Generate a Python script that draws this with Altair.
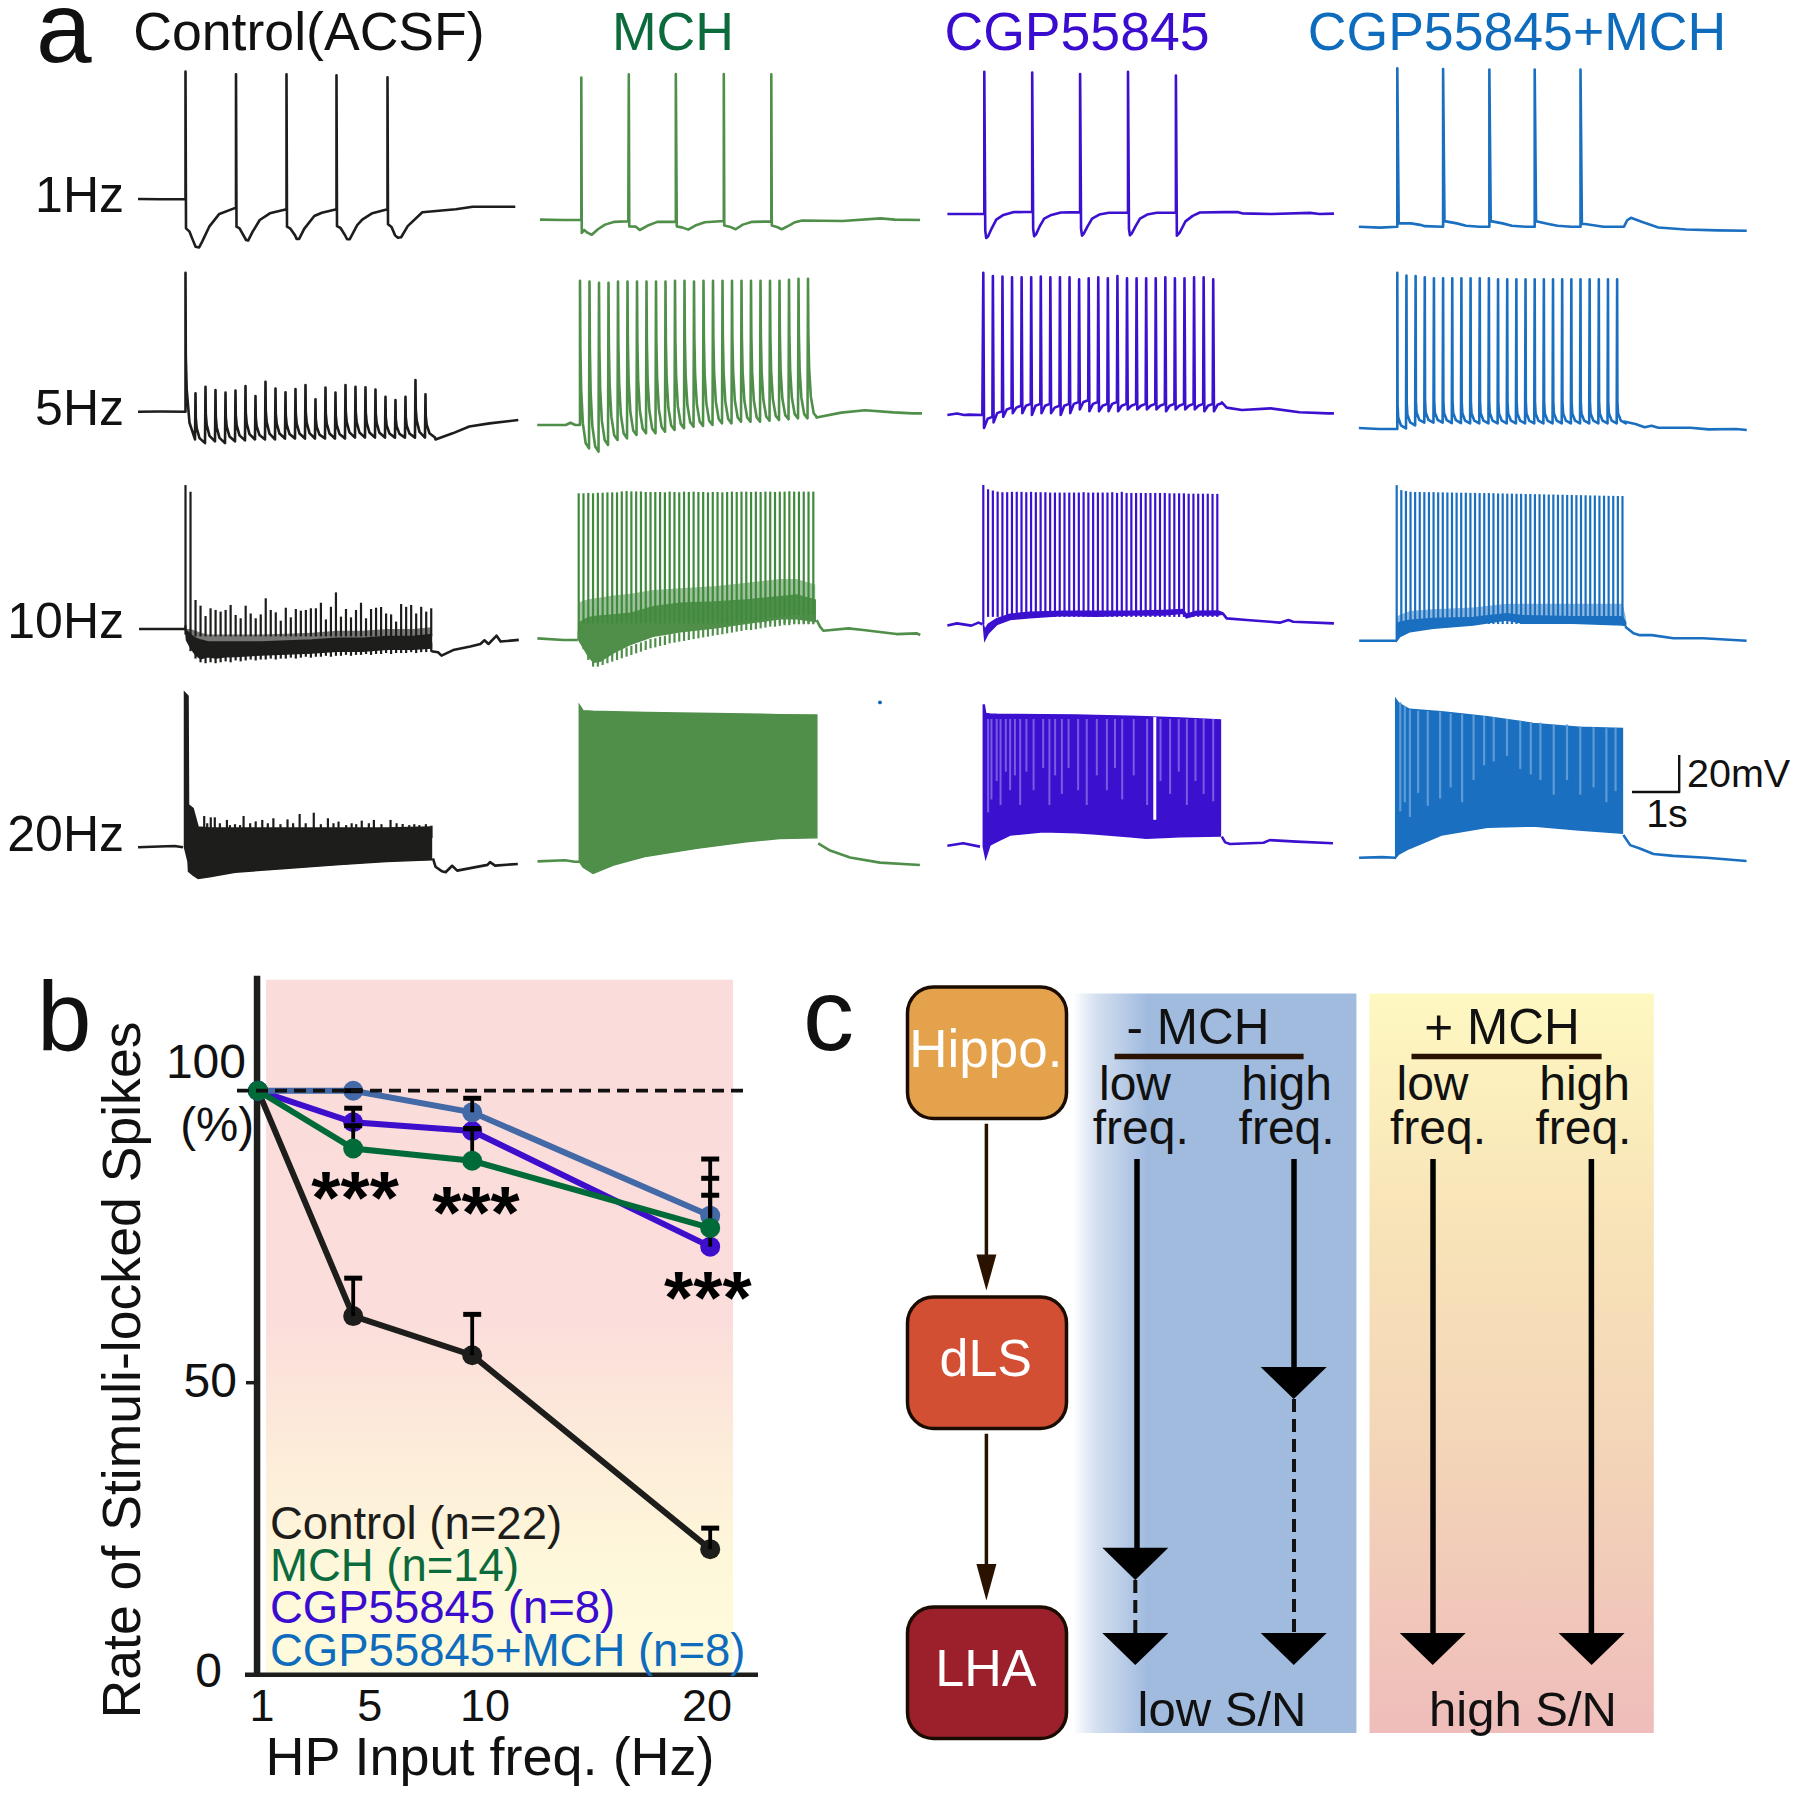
import altair as alt
import pandas as pd

FONT = "Liberation Sans"
INK = "#1d1d1b"
C_CTRL, C_MCH, C_CGP, C_BOTH = INK, "#4f8f4a", "#3c10cf", "#1a6fc0"
T_MCH, T_CGP, T_BOTH = "#0b6b3c", "#3a0ccf", "#0f6cbd"
PAGE = 8

# ---- layout of panel a (picture pixels)
COL_X = [8, 530, 930, 1340]
COL_W = [522, 400, 410, 452]
ROW_Y = [8, 260, 470, 685]
ROW_H = [252, 210, 215, 210]
PX_PER_S = [50.5, 47.5, 47.9, 45.8]
PX_PER_MV = 1.85
ONSET_X = [[185.5, 581.3, 984.3, 1397.3], [185.5, 580, 983.3, 1397.3],
           [185.5, 578.7, 983.3, 1396.7], [184.5, 579.3, 983.3, 1395.7]]
REST_Y = [[199.3, 220, 214, 226.7], [411.7, 425, 415, 429],
          [629, 640, 624.3, 640.7], [847.3, 861.7, 845.7, 857.7]]
COLORS = [C_CTRL, C_MCH, C_CGP, C_BOTH]

# ---- 1 Hz traces: time (s), membrane potential (mV re. rest)
R1_CTRL_T = [-.94, -.5, -.02, 0, 0, .01, .08, .13, .2, .27, .33, .47, .67, 1, 1, 1.01, 1.07, 1.2, 1.24, 1.33, 1.47, 1.67, 2,
             2, 2.01, 2.07, 2.17, 2.2, 2.25, 2.35, 2.55, 2.7, 2.99, 2.99, 3, 3.07, 3.15, 3.2, 3.25, 3.4, 3.5, 3.7, 4, 4, 4.01,
             4.08, 4.15, 4.2, 4.27, 4.4, 4.69, 5.35, 5.69, 6.16, 6.53]
R1_CTRL_V = [.2, 0, 0, 0, 69, -15.7, -17.5, -21, -25.6, -26, -22.9, -14.8, -7.9, -4.5, 67.6, -14.8, -15.7, -22, -22.3, -17.5, -11.2, -7.6, -5.4,
             67.6, -14.8, -15.7, -19.5, -21.4, -21.4, -16, -9, -7.3, -5.4, 67, -14.5, -15.5, -19, -21.6, -21.6, -14, -11, -7.5, -5.4, 66, -13.5,
             -15, -19.5, -20.7, -20.5, -14.5, -7, -5.4, -4, -4, -4]
R1_MCH_T = [-.87, -.38, 0, 0, .01, .06, .11, .22, .35, .5, .7, .99, 1, 1.01, 1.15, 1.23, 1.4, 1.6, 1.99, 1.99, 2.01, 2.12, 2.25, 2.4, 2.6, 3,
            3, 3.01, 3.12, 3.25, 3.4, 3.6, 4, 4, 4.01, 4.12, 4.22, 4.37, 4.5, 4.65, 5.5, 6.3, 6.6, 7.13]
R1_MCH_V = [.2, 0, 0, 77, -7, -5.4, -6.5, -8, -5, -2.5, -1, -.7, 78.7, -3.5, -3.6, -5.4, -3, -1, -.9, 78.9, -3.5, -4, -5.2, -3, -1.2, -.5,
            78.9, -3, -3.6, -5, -2.5, -1, -.8, 78.7, -3, -3.8, -5, -3, -1.2, -.3, -.5, .9, .2, 0]
R1_CGP_T = [-.77, -.1, 0, 0, .02, .04, .08, .15, .25, .4, .6, 1, 1, 1.02, 1.04, 1.08, 1.15, 1.25, 1.4, 1.6, 2, 2, 2.02, 2.04, 2.08, 2.15, 2.25,
            2.4, 2.6, 3, 3, 3.02, 3.04, 3.08, 3.15, 3.25, 3.4, 3.6, 4, 4, 4.02, 4.08, 4.2, 4.35, 4.5, 5, 5.3, 5.4, 5.6, 6, 6.8, 7, 7.3]
R1_CGP_V = [0, 0, 0, 76.9, -9, -13, -12, -8, -3, -.5, 1, 1.2, 76.4, -8, -12, -11, -7, -2.5, -.5, .8, 1, 75.7, -8, -11.7, -10.5, -7, -2.5,
            -.3, .7, .8, 76.9, -8, -11.5, -10.5, -7, -2.5, -.3, .7, .8, 74.8, -11.7, -10, -4, -1, .8, 1, 1, .3, .2, 0, .6, 0, .2]
R1_BOTH_T = [-.84, -.38, 0, 0, .03, .3, .5, .6, 1, 1, 1.03, 1.3, 1.5, 1.8, 2.01, 2.01, 2.04, 2.3, 2.5, 2.8, 3, 3, 3.03, 3.3, 3.5, 3.8, 4, 4,
             4.03, 4.1, 4.5, 4.95, 5.02, 5.1, 5.35, 5.7, 6.3, 7, 7.63]
R1_BOTH_V = [0, -.5, 0, 85.6, 1.8, 1.8, 1, .3, 0, 85.2, 3, 1.8, .5, 0, 0, 85, 3, 1.8, .5, 0, 0, 85, 3, 1.5, .5, 0, 0, 85,
             1.5, 1.5, 0, 0, 3.5, 4.8, 2.5, -.4, -1.5, -2, -2.2]

# ---- 5 Hz traces: spike peaks and the valley that follows each spike
R2_CTRL_PEAK = [75.1, 10, 13.5, 11.7, 10.3, 11.4, 13.9, 8.5, 16.2, 12.5, 10.5, 12.3, 14.4, 6.7, 13, 10.3, 14.4, 13.5, 13.2, 12, 8.1, 6.3, 8.1, 17.1, 9.4]
R2_CTRL_LOW = [-15, -17, -16, -17, -16, -15.5, -15, -15, -15, -14.5, -14.5, -14.5, -14.5, -14.5, -14.5, -14.5, -14, -14, -14, -14, -14, -14, -14, -14, -14]
R2_CTRL_PRE_T, R2_CTRL_PRE_V = [-.94, -.5, 0], [0, .1, 0]
R2_CTRL_POST_T, R2_CTRL_POST_V = [4.95, 5.29, 5.62, 6.02, 6.59], [-15, -11.7, -8, -6.3, -4.5]

R2_MCH_PEAK = [78, 77.5, 76.9, 76.9, 77.5, 77.5, 77.5, 77.5, 77.5, 77.5, 78, 78, 77.5, 78, 78, 78, 78, 78, 78, 78, 78, 78, 78.5, 79, 79]
R2_MCH_LOW = [-12.6, -14.4, -10.8, -8.1, -7.2, -5.4, -4.5, -4.5, -3.6, -2.7, -1.8, -.9, -.5, 0, .9, .9, 1.8, 1.8, 1.8, 2.3, 2.7, 3.1, 3.6, 3.6, 4.1]
R2_MCH_PRE_T, R2_MCH_PRE_V = [-.9, -.3, -.2, -.1, 0], [0, 0, 1.2, 0, 0]
R2_MCH_POST_T, R2_MCH_POST_V = [4.98, 5.5, 6, 6.6, 7, 7.2], [4, 6.7, 8, 6.8, 6.3, 6.3]

R2_CGP_PEAK = [76.9, 75.1, 74.8, 74.4, 74.4, 74.4, 74.8, 74.4, 74.4, 74.4, 73.3, 73.9, 74.4, 73.9, 75.1, 73.9, 73.9, 73.9, 73.9, 74.4, 73.9, 73.9, 74.4, 74.4, 73.3]
R2_CGP_DIP = [-7, -4, -1, 1, 1, 0, 1, 1, 0, 1, 3, 2, 2, 2, 2, 3, 3, 3, 3, 2, 3, 3, 3, 2, 2]
R2_CGP_TOP = [-1, 2, 4, 5, 6, 6, 6, 5, 6, 7, 8, 7, 6, 7, 6, 6, 6, 6, 6, 6, 6, 6, 6, 6, 6.5]
R2_CGP_PRE_T, R2_CGP_PRE_V = [-.75, -.55, -.4, -.3, -.02], [0, .8, 0, .2, 0]
R2_CGP_POST_T, R2_CGP_POST_V = [4.98, 5.08, 5.4, 6, 6.6, 7.2, 7.32], [6.8, 4, 2.7, 3.6, 1.5, .9, .9]

R2_BOTH_PEAK = [84.5, 82.9, 82.7, 82, 81.5, 81.5, 81.5, 81.5, 81.5, 81.5, 81.5, 80.9, 80.9, 80.9, 80.9, 80.9, 80.9, 80.9, 80.9, 80.9, 80.9, 80.9, 80.9, 80.9, 80.9]
R2_BOTH_LOW = [.3, 2, 3.4, 3.4, 3.4, 3.2, 3.2, 3, 3, 3, 3, 3, 3, 3, 3, 3, 3, 3, 3, 3, 3, 3, 3, 3, 3]
R2_BOTH_PRE_T, R2_BOTH_PRE_V = [-.84, -.4, 0], [.5, 0, 0]
R2_BOTH_POST_T, R2_BOTH_POST_V = [4.95, 5.2, 5.4, 5.55, 5.7, 6.4, 6.8, 7.4, 7.63], [4, 2.7, 1, 1.8, .7, .7, -.2, 0, -.5]

# ---- 10 Hz traces: peaks, solid band, paler band above it, valley teeth below it
R3_CTRL_PEAK = [77.8, 74.2, 15.7, 12.6, 7, 11.2, 10.3, 9.4, 10.3, 13, 7.6, 5.8, 12.6, 8.4, 5.8, 7.9, 16.6, 10.3, 9, 4.5, 11.5, 6.3, 10.8, 9.9, 10.3,
                11.2, 11.2, 14.2, 5.2, 12, 19.8, 6.7, 10.8, 6.3, 10.3, 14.2, 5.8, 10.8, 11.5, 11.9, 8.4, 7.9, 4, 13.5, 12, 13, 8.4, 12, 9.4, 11.2]
R3_CTRL_ENV_T = [0, .02, .1, .2, .3, .45, .6, .8, 1, 1.5, 2, 2.5, 3, 3.5, 4, 4.5, 4.87]
R3_CTRL_ENV_LO = [0, -6, -10, -14, -16, -15, -15.7, -15, -14.8, -14, -13.5, -13, -12, -12, -11, -11, -10.3]
R3_CTRL_ENV_HI = [0, -1, -3, -5, -6, -7, -7, -7, -7, -7, -6.5, -6, -5, -5, -4, -4, -3]
R3_CTRL_PALE_HI = [0, 0, 0, -1, -2, -3, -3, -3, -3, -3, -2.5, -2, -1, -1, 0, 0, 1]
R3_CTRL_TEETH = [-3, -12, -16, -18, -18.5, -18, -18.5, -18, -17.5, -18, -17, -17.5, -17, -16.5, -17, -16.5, -16.5, -16, -16.5, -16, -16, -15.5, -16, -15.5, -15,
                 -15.5, -15, -15, -14.5, -15, -14.5, -14.5, -14, -14.5, -14, -14, -13.5, -14, -13.5, -13.5, -13, -13.5, -13, -13, -13, -12.5, -13, -12.5, -12.5, -12.3]
R3_CTRL_PRE_T, R3_CTRL_PRE_V = [-.92, -.5, 0], [0, 0, 0]
R3_CTRL_POST_T = [4.87, 5, 5.07, 5.3, 5.64, 5.84, 5.92, 6, 6.16, 6.24, 6.6]
R3_CTRL_POST_V = [-12, -12.6, -14.4, -11.4, -9.5, -8.1, -6.1, -8.1, -3.6, -6.8, -5.9]

R3_MCH_PEAK = [79.3, 79.3, 79.5, 79.3, 79.6, 79.6, 79.8, 79.8, 79.8, 80.3, 80.5, 80.3, 80.3, 80.3, 80, 80, 80, 80, 79.8, 80.2, 80, 79.8, 80.2, 80, 80.2,
               80, 80, 79.8, 80, 80, 79.8, 80, 80.2, 80, 80.2, 80.2, 80, 80.2, 80, 80.2, 80.2, 80, 80.2, 80.2, 80.4, 80.2, 80.2, 80.2, 80.2, 80.2]
R3_MCH_ENV_T = [0, .06, .2, .31, .45, .73, 1.08, 1.57, 2.14, 2.85, 3.54, 4.24, 4.59, 4.98]
R3_MCH_ENV_LO = [0, -2.5, -8.5, -12, -11.5, -7, -2.5, 2, 4.5, 6.5, 9, 11.5, 11.5, 10]
R3_MCH_ENV_HI = [9, 10, 12, 12.6, 13, 13.5, 14.4, 18, 19.8, 20.5, 21.6, 23.4, 24.3, 21.6]
R3_MCH_PALE_HI = [20, 21, 22, 22.5, 23, 24, 25, 27, 28, 29, 31, 33, 33, 30]
R3_MCH_TEETH = [0, -5, -10.8, -14.4, -14.4, -13.5, -12.6, -11.7, -10.8, -9.9, -9, -8.1, -7.2, -6.3, -5.4, -4.5, -4, -3.2, -2.7, -1.8, -1.4, -.9, -.5, 0, .5,
                .9, 1.4, 1.8, 2.3, 2.7, 3.1, 3.6, 4, 4.5, 4.9, 5.4, 5.4, 5.8, 6.3, 6.7, 7.2, 7.2, 7.6, 8, 8, 8.5, 8.5, 8.5, 8.5, 8.5]
R3_MCH_PRE_T, R3_MCH_PRE_V = [-.87, -.32, -.02], [.9, 0, 0]
R3_MCH_POST_T, R3_MCH_POST_V = [5.01, 5.08, 5.15, 5.68, 5.99, 6.69, 7.12, 7.19], [10.8, 7.2, 5, 6.3, 5.4, 3.2, 3.6, 2.7]

R3_CGP_PEAK = [75.3, 73, 72.3, 71.7, 71.4, 71.4, 71.6, 71.6, 71.6, 71.4, 71.6, 71.4, 71.4, 71.4, 71.2, 71.2, 71.2, 71.2, 71.2, 71.2, 71.2, 71.4, 71.2, 71.2, 71.2,
               71.2, 71.2, 71.4, 71, 71.6, 71, 71, 71, 71, 71, 71, 71, 71, 71, 70.8, 70.8, 70.8, 70.8, 70.6, 70.6, 70.6, 70.6, 70.6, 70.5, 70.5]
R3_CGP_ENV_T = [0, .03, .1, .28, .56, .97, 1.67, 2.37, 3.06, 3.76, 4.17, 4.24, 4.45, 4.9, 5]
R3_CGP_ENV_LO = [0, -8.5, -5, -.2, 2.6, 3.5, 4.8, 4.4, 5, 5, 6, 3.5, 5, 5, 5.5]
R3_CGP_ENV_HI = [0, -3, 0, 3, 5.5, 6.5, 7, 7, 7, 7.5, 8, 5.5, 7, 7.2, 6.2]
R3_CGP_PRE_T, R3_CGP_PRE_V = [-.75, -.55, -.25, -.1, -.02], [-.7, .5, -.7, .9, 0]
R3_CGP_POST_T, R3_CGP_POST_V = [5, 5.08, 5.5, 5.98, 6.19, 6.37, 6.47, 7.32], [5.9, 3.2, 2.3, 1.4, .9, 2.3, 1.4, .5]

R3_BOTH_PEAK = [84.1, 81.4, 80.9, 80.5, 80.4, 80.4, 80.3, 80.3, 80.3, 80.2, 80.2, 80.1, 80.1, 80, 80, 80, 79.9, 79.9, 79.8, 79.8, 79.8, 79.7, 79.6, 79.6, 79.5,
                79.5, 79.4, 79.4, 79.3, 79.3, 79.2, 79.2, 79.1, 79, 79, 78.9, 78.9, 78.8, 78.8, 78.7, 78.7, 78.6, 78.5, 78.5, 78.4, 78.4, 78.3, 78.3, 78.2, 78.2]
R3_BOTH_ENV_T = [0, .07, .29, .8, 1.67, 2.4, 2.76, 3.86, 4.93, 5]
R3_BOTH_ENV_LO = [0, 2.2, 4.9, 6.7, 8.5, 11.2, 9.4, 9.4, 8.5, 8]
R3_BOTH_ENV_HI = [9, 10, 11, 12, 12.5, 14.5, 13.5, 13, 13, 10]
R3_BOTH_PALE_HI = [13, 14, 16, 17, 18, 20, 20, 20, 20, 13]
R3_BOTH_PRE_T, R3_BOTH_PRE_V = [-.82, 0], [0, 0]
R3_BOTH_POST_T, R3_BOTH_POST_V = [4.99, 5.17, 5.31, 5.57, 6.04, 6.69, 7.64], [7.6, 4, 3, 3, 1.3, 1.3, 0]

# ---- 20 Hz traces
R4_CTRL_T = [0, .07, .08, .17, .27, .5, 1, 2, 3, 4, 4.89]
R4_CTRL_HI = [83.8, 81.8, 22.9, 21, 11, 10.5, 10.5, 10.5, 10.5, 10.5, 11]
R4_CTRL_LO = [0, -7.7, -13, -15, -16.8, -15.9, -13.5, -11.4, -9.5, -7.7, -6.8]
R4_CTRL_COMB_T = [.39, .45, .52, .6, .7, .84, .9, 1, 1.1, 1.17, 1.3, 1.41, 1.54, 1.65, 1.76, 1.9, 2.04, 2.15, 2.28, 2.4, 2.56, 2.7, 2.84, 2.95, 3.05, 3.2,
                  3.31, 3.4, 3.51, 3.65, 3.75, 3.9, 4.08, 4.2, 4.32, 4.45, 4.55, 4.65, 4.78, 4.89]
R4_CTRL_COMB_V = [16.9, 13, 16.2, 16.2, 13, 14.8, 12, 12.5, 12, 16.9, 13, 14, 14.8, 13, 15.7, 12.5, 15.1, 13, 18, 13, 18.7, 12.5, 15.7, 13, 13.9, 12,
                  13, 12.5, 14.4, 13, 14.8, 12.5, 14.8, 13, 12.6, 12, 12.5, 12, 12.5, 11.7]
R4_CTRL_PRE_T, R4_CTRL_PRE_V = [-.92, -.5, -.2, -.03], [0, .4, .7, 0]
R4_CTRL_POST_T = [4.92, 4.97, 5.1, 5.17, 5.3, 5.4, 6, 6.05, 6.15, 6.6]
R4_CTRL_POST_V = [-6, -10.5, -13, -13.5, -10, -12.6, -9.5, -8, -9.9, -9]

R4_MCH_T = [0, .08, .29, .72, 1.42, 2.47, 3.52, 4.22, 5]
R4_MCH_HI = [84.7, 81.6, 81.3, 81, 80.6, 80.2, 79.8, 79.5, 79.3]
R4_MCH_LO = [0, -3, -6.3, -1.8, 3, 7.2, 10.8, 12.6, 13]
R4_MCH_PRE_T, R4_MCH_PRE_V = [-.88, -.3, -.1, 0], [.2, .8, 0, 0]
R4_MCH_POST_T, R4_MCH_POST_V = [5.03, 5.28, 5.7, 6.33, 7.17], [9.9, 6, 2.3, -.5, -1.8]
STRAY_T, STRAY_V = [6.33], [86.1]

R4_CGP_T = [0, .02, .05, .14, .28, .56, 1.25, 1.95, 2.35, 3.06, 3.4, 4.11, 4.95]
R4_CGP_HI = [76, 76, 71.5, 71.2, 71, 70.9, 70.8, 70.6, 70.4, 70, 69.7, 69, 67.9]
R4_CGP_LO = [-.5, -3, -6.8, .4, 2.2, 5.8, 7.6, 7, 6.3, 4.9, 4, 4.9, 5.2]
R4_CGP_LIGHT_T = [.1, .17, .28, .36, .47, .56, .66, .77, .9, 1.05, 1.25, 1.38, 1.5, 1.64, 1.78, 1.98, 2.16, 2.37, 2.58, 2.75, 2.9, 3.14, 3.42, 3.7, 3.9, 4.08, 4.25, 4.43, 4.6, 4.8]
R4_CGP_LIGHT_LOW = [18, 25, 35, 22, 40, 30, 38, 22, 40, 30, 42, 22, 38, 28, 42, 30, 22, 38, 30, 42, 25, 38, 22, 35, 28, 40, 22, 35, 28, 24]
R4_CGP_GAP_T = [3.58]
R4_CGP_PRE_T, R4_CGP_PRE_V = [-.75, -.42, -.07], [0, 1.3, -.5]
R4_CGP_POST_T, R4_CGP_POST_V = [4.98, 5.05, 5.15, 5.85, 5.98, 6.54, 7.3], [4.9, 1.8, .9, 1.6, 3, 2.2, 1.3]

R4_BOTH_T = [0, .07, .3, 1, 2, 3, 4, 4.95]
R4_BOTH_HI = [85.8, 83.4, 80.2, 78.9, 76.2, 72.6, 70.5, 69.9]
R4_BOTH_LO = [0, 2, 5, 12.3, 16.4, 17.1, 15, 13.2]
R4_BOTH_LIGHT_T = [.1, .2, .31, .49, .7, .97, 1.2, 1.45, 1.7, 1.93, 2.14, 2.43, 2.72, 2.95, 3.16, 3.45, 3.74, 4.03, 4.32, 4.6, 4.8]
R4_BOTH_LIGHT_V = [84, 82, 80, 79.5, 79.2, 79, 78, 77.5, 77, 76.5, 76, 75, 74, 73.3, 73, 72, 72, 71, 70.5, 70, 70]
R4_BOTH_LIGHT_LOW = [25, 30, 22, 35, 28, 32, 38, 30, 42, 50, 52, 55, 48, 45, 42, 34, 42, 34, 38, 30, 36]
R4_BOTH_PRE_T, R4_BOTH_PRE_V = [-.8, -.3, 0], [0, .3, 0]
R4_BOTH_POST_T, R4_BOTH_POST_V = [4.97, 5.12, 5.33, 5.63, 6.06, 6.79, 7.66], [12.3, 6.8, 5, 2, 1, 0, -1.8]

SCALE_BAR_T, SCALE_BAR_V = [5.16, 6.19, 6.19], [35.5, 35.5, 55.5]

# ---- panel b data
FREQ = [1, 5, 10, 20]
CTRL_RATE = [100, 61.4, 54.7, 21.5]
MCH_RATE = [100, 90.1, 88.0, 76.5]
CGP_RATE = [100, 94.6, 93.1, 73.3]
BOTH_RATE = [100, 100, 96.3, 78.6]
CTRL_ERR = [100, 67.9, 61.7, 25.1]
MCH_ERR = [100, 94, 93.5, 82.1]
CGP_ERR = [100, 97, 93.5, 85]
BOTH_ERR = [100, 100, 98.7, 88.3]
X_LABELS, X_LABEL_POS = ["1", "5", "10", "20"], [1.17, 5.7, 10.54, 19.87]
STAR_F, STAR_V = [5.08, 10.16, 19.9], [77.4, 74.8, 60.2]
LEGEND = ["Control (n=22)", "MCH (n=14)", "CGP55845 (n=8)", "CGP55845+MCH (n=8)"]
LEGEND_COL = [INK, T_MCH, T_CGP, T_BOTH]
LINE_COL = {"ctrl": INK, "mch": "#006b38", "cgp": "#3e0ecd", "both": "#4369a7"}

# ---- panel c schematic, in picture pixels
BOX_NAME = ["Hippo.", "dLS", "LHA"]
BOX_FILL = ["#E5A24C", "#D24F33", "#9C202B"]
BOX_TOP = [987, 1297, 1607]
BOX_BOTTOM = [1118.5, 1428.5, 1738.5]
BOX_BASE = [1067, 1376, 1686]


def pos_scale(domain, px_a, px_b):
    """Own scale of one region of the page; px_a and px_b are picture pixels."""
    return alt.Scale(domain=domain, range=[px_a - PAGE, px_b - PAGE], zero=False, nice=False)


def text_at(s, px, py, size, color, align="center", angle=None):
    kw = dict(font=FONT, fontSize=size, color=color, align=align, baseline="alphabetic")
    if angle is not None:
        kw["angle"] = angle
    return alt.Chart(pd.DataFrame({"s": [s]})).mark_text(**kw).encode(
        text="s:N", x=alt.value(px - PAGE), y=alt.value(py - PAGE))


def comb(times, peaks, lows, shape, dt):
    t, v = [], []
    for ti, p, lo in zip(times, peaks, lows):
        t.append(ti)
        v.append(p)
        for phase, frac in shape:
            t.append(ti + phase * dt)
            v.append(lo + frac * (p - lo))
    return t, v


def stim(n, dt):
    return [i * dt for i in range(n)]


def build_cell(r, c):
    x0, y0 = ONSET_X[r][c], REST_Y[r][c]
    X, Y, W, H = COL_X[c], ROW_Y[r], COL_W[c], ROW_H[r]
    pxs = PX_PER_S[c]
    sx = pos_scale([(X - x0) / pxs, (X + W - x0) / pxs], X, X + W)
    sy = pos_scale([(y0 - (Y + H)) / PX_PER_MV, (y0 - Y) / PX_PER_MV], Y + H, Y)
    enc_x = alt.X("t:Q", scale=sx, axis=None)
    enc_y = alt.Y("v:Q", scale=sy, axis=None)
    col = COLORS[c]

    def line(t, v, color=col, width=2.6):
        df = pd.DataFrame({"t": t, "v": v, "i": range(len(t))})
        return alt.Chart(df).mark_line(color=color, strokeWidth=width, strokeJoin="round").encode(
            x=enc_x, y=enc_y, order="i:Q")

    def area(t, lo, hi, color=col, opacity=1.0):
        df = pd.DataFrame({"t": t, "v": lo, "hi": hi})
        return alt.Chart(df).mark_area(color=color, stroke=color, strokeWidth=0 if opacity < 1 else 1.5, opacity=opacity).encode(
            x=enc_x, y=enc_y, y2="hi:Q")

    def spikes(t, peak, foot, color=col, width=2.2):
        df = pd.DataFrame({"t": t, "v": peak, "foot": foot})
        return alt.Chart(df).mark_rule(color=color, strokeWidth=width).encode(
            x=enc_x, y=enc_y, y2="foot:Q")

    key = (r, c)
    if r == 0:
        T, V = [(R1_CTRL_T, R1_CTRL_V), (R1_MCH_T, R1_MCH_V), (R1_CGP_T, R1_CGP_V), (R1_BOTH_T, R1_BOTH_V)][c]
        return [line(T, V)]
    if key == (1, 0):
        t, v = comb(stim(25, .198), R2_CTRL_PEAK, R2_CTRL_LOW, [(.03, .5), (.12, .3), (.4, .1), (.95, 0)], .198)
        return [line(R2_CTRL_PRE_T + t + R2_CTRL_POST_T, R2_CTRL_PRE_V + v + R2_CTRL_POST_V)]
    if key == (1, 1):
        t, v = comb(stim(25, .2), R2_MCH_PEAK, R2_MCH_LOW, [(.04, .6), (.12, .35), (.3, .15), (.6, .03), (.95, 0)], .2)
        return [line(R2_MCH_PRE_T + t + R2_MCH_POST_T, R2_MCH_PRE_V + v + R2_MCH_POST_V)]
    if key == (1, 2):
        t, v = [], []
        for ti, p, d, f in zip(stim(25, .2), R2_CGP_PEAK, R2_CGP_DIP, R2_CGP_TOP):
            t += [ti, ti + .015, ti + .09, ti + .19]
            v += [p, d, f - 1, f]
        return [line(R2_CGP_PRE_T + t + R2_CGP_POST_T, R2_CGP_PRE_V + v + R2_CGP_POST_V)]
    if key == (1, 3):
        t, v = comb(stim(25, .2), R2_BOTH_PEAK, R2_BOTH_LOW, [(.03, .15), (.1, .07), (.4, .02), (.95, 0)], .2)
        return [line(R2_BOTH_PRE_T + t + R2_BOTH_POST_T, R2_BOTH_PRE_V + v + R2_BOTH_POST_V)]
    if key == (2, 0):
        tt = stim(50, .0993)
        return [line(R3_CTRL_PRE_T, R3_CTRL_PRE_V),
                area(R3_CTRL_ENV_T, R3_CTRL_ENV_HI, R3_CTRL_PALE_HI, col, .6),
                area(R3_CTRL_ENV_T, R3_CTRL_ENV_LO, R3_CTRL_ENV_HI),
                spikes(tt, R3_CTRL_PEAK, [0] + [-4] * 49),
                spikes(tt, R3_CTRL_TEETH, [t + 5 for t in R3_CTRL_TEETH]),
                line(R3_CTRL_POST_T, R3_CTRL_POST_V)]
    if key == (2, 1):
        tt = stim(50, .1008)
        return [line(R3_MCH_PRE_T, R3_MCH_PRE_V),
                area(R3_MCH_ENV_T, R3_MCH_ENV_HI, R3_MCH_PALE_HI, col, .55),
                area(R3_MCH_ENV_T, R3_MCH_ENV_LO, R3_MCH_ENV_HI),
                spikes(tt, R3_MCH_PEAK, [0] + [9] * 49, "#3f8a3c"),
                spikes(tt, R3_MCH_TEETH, [t + 5 for t in R3_MCH_TEETH]),
                line(R3_MCH_POST_T, R3_MCH_POST_V)]
    if key == (2, 2):
        return [line(R3_CGP_PRE_T, R3_CGP_PRE_V), area(R3_CGP_ENV_T, R3_CGP_ENV_LO, R3_CGP_ENV_HI),
                spikes(stim(50, .0997), R3_CGP_PEAK, [0] + [4] * 49), line(R3_CGP_POST_T, R3_CGP_POST_V)]
    if key == (2, 3):
        return [line(R3_BOTH_PRE_T, R3_BOTH_PRE_V),
                area(R3_BOTH_ENV_T, R3_BOTH_ENV_HI, R3_BOTH_PALE_HI, col, .5),
                area(R3_BOTH_ENV_T, R3_BOTH_ENV_LO, R3_BOTH_ENV_HI),
                spikes(stim(50, .1006), R3_BOTH_PEAK, [0] + [9] * 49), line(R3_BOTH_POST_T, R3_BOTH_POST_V)]
    if key == (3, 0):
        return [line(R4_CTRL_PRE_T, R4_CTRL_PRE_V), area(R4_CTRL_T, R4_CTRL_LO, R4_CTRL_HI),
                spikes(R4_CTRL_COMB_T, R4_CTRL_COMB_V, [5] * len(R4_CTRL_COMB_T)),
                line(R4_CTRL_POST_T, R4_CTRL_POST_V)]
    if key == (3, 1):
        return [line(R4_MCH_PRE_T, R4_MCH_PRE_V), area(R4_MCH_T, R4_MCH_LO, R4_MCH_HI),
                line(R4_MCH_POST_T, R4_MCH_POST_V),
                alt.Chart(pd.DataFrame({"t": STRAY_T, "v": STRAY_V})).mark_point(
                    filled=True, color="#0f5fc0", size=14, opacity=1).encode(x=enc_x, y=enc_y)]
    if key == (3, 2):
        n = len(R4_CGP_LIGHT_T)
        return [line(R4_CGP_PRE_T, R4_CGP_PRE_V), area(R4_CGP_T, R4_CGP_LO, R4_CGP_HI),
                spikes(R4_CGP_LIGHT_T, [68.5] * n, R4_CGP_LIGHT_LOW, "#7a5ce2", 2),
                spikes(R4_CGP_GAP_T, [69.5], [14], "#ffffff", 3),
                line(R4_CGP_POST_T, R4_CGP_POST_V)]
    return [line(R4_BOTH_PRE_T, R4_BOTH_PRE_V), area(R4_BOTH_T, R4_BOTH_LO, R4_BOTH_HI),
            spikes(R4_BOTH_LIGHT_T, R4_BOTH_LIGHT_V, R4_BOTH_LIGHT_LOW, "#5c9bd6", 2.2),
            line(R4_BOTH_POST_T, R4_BOTH_POST_V),
            line(SCALE_BAR_T, SCALE_BAR_V, "#111111", 2.4)]


layers = []
for r in range(4):
    for c in range(4):
        layers += build_cell(r, c)

DARK = "#111111"
layers += [text_at("a", 36, 61.7, 100, DARK, align="left"),
           text_at("Control(ACSF)", 309, 50, 53.6, DARK), text_at("MCH", 673, 50, 53.6, T_MCH),
           text_at("CGP55845", 1077, 50, 53.6, T_CGP), text_at("CGP55845+MCH", 1517, 50, 53.6, T_BOTH)]
for s, py in [("1Hz", 212), ("5Hz", 425), ("10Hz", 638), ("20Hz", 851)]:
    layers.append(text_at(s, 124, py, 50, DARK, align="right"))
layers += [text_at("20mV", 1687, 787, 39.5, DARK, align="left"), text_at("1s", 1667, 827, 39.5, DARK)]

# ---------------- panel b
BX, BY, BW, BH = 8, 895, 782, 892
F_OF = lambda px: (px - 258) / 23.8 + 1
V_OF = lambda py: (1674.7 - py) / 5.84
bsx = pos_scale([F_OF(BX), F_OF(BX + BW)], BX, BX + BW)
bsy = pos_scale([V_OF(BY + BH), V_OF(BY)], BY + BH, BY)
bX = alt.X("f:Q", scale=bsx, axis=None)
bY = alt.Y("v:Q", scale=bsy, axis=None)


def series_line(rate, col):
    df = pd.DataFrame({"f": FREQ, "v": rate})
    return [alt.Chart(df).mark_line(color=col, strokeWidth=6).encode(x=bX, y=bY),
            alt.Chart(df).mark_point(filled=True, color=col, size=400, opacity=1).encode(x=bX, y=bY)]


def err_bars(rate, err):
    df = pd.DataFrame({"f": FREQ[1:], "v": rate[1:], "e": err[1:]})
    return [alt.Chart(df).mark_rule(color="#000000", strokeWidth=3.8).encode(x=bX, y=bY, y2="e:Q"),
            alt.Chart(df).mark_tick(color="#000000", size=18, thickness=5, orient="horizontal", opacity=1).encode(
                x=bX, y=alt.Y("e:Q", scale=bsy, axis=None))]


bg = alt.Chart(pd.DataFrame({"f": [1.34], "f2": [20.96], "v": [0.4], "v2": [119]})).mark_rect(
    color=alt.Gradient(gradient="linear", x1=0, x2=0, y1=0, y2=1, stops=[
        alt.GradientStop(color="#FADCDA", offset=0), alt.GradientStop(color="#FBDEDB", offset=.5),
        alt.GradientStop(color="#FDEFD9", offset=.72), alt.GradientStop(color="#FEF8DA", offset=.85),
        alt.GradientStop(color="#FEFBDC", offset=1)])).encode(x=bX, x2="f2:Q", y=bY, y2="v2:Q")

y_axis_line = alt.Chart(pd.DataFrame({"f": [.96], "v": [0], "v2": [119.7]})).mark_rule(color=INK, strokeWidth=6.5).encode(x=bX, y=bY, y2="v2:Q")
x_axis_line = alt.Chart(pd.DataFrame({"f": [F_OF(245)], "f2": [F_OF(758)], "v": [0]})).mark_rule(color=INK, strokeWidth=4.5).encode(x=bX, x2="f2:Q", y=bY)
tick_50 = alt.Chart(pd.DataFrame({"f": [F_OF(246)], "f2": [1], "v": [50]})).mark_rule(color=INK, strokeWidth=3.5).encode(x=bX, x2="f2:Q", y=bY)
dash = alt.Chart(pd.DataFrame({"f": [F_OF(237)], "f2": [F_OF(748)], "v": [100]})).mark_rule(
    color="#111111", strokeWidth=3.8, strokeDash=[12, 7]).encode(x=bX, x2="f2:Q", y=bY)

stars = alt.Chart(pd.DataFrame({"f": STAR_F, "v": STAR_V, "s": ["***"] * 3})).mark_text(
    font=FONT, fontSize=75, fontWeight="bold", color="#000000", baseline="alphabetic", align="center").encode(x=bX, y=bY, text="s:N")
xt = alt.Chart(pd.DataFrame({"f": X_LABEL_POS, "s": X_LABELS, "v": [V_OF(1720.5)] * 4})).mark_text(
    font=FONT, fontSize=45, color="#111111", baseline="alphabetic", align="center").encode(x=bX, y=bY, text="s:N")

layers += [bg, y_axis_line, x_axis_line, tick_50]
layers += series_line(CTRL_RATE, LINE_COL["ctrl"]) + err_bars(CTRL_RATE, CTRL_ERR)
layers += series_line(CGP_RATE, LINE_COL["cgp"]) + series_line(BOTH_RATE, LINE_COL["both"])
layers += err_bars(CGP_RATE, CGP_ERR) + err_bars(MCH_RATE, MCH_ERR) + err_bars(BOTH_RATE, BOTH_ERR)
layers += series_line(MCH_RATE, LINE_COL["mch"])
layers += [dash, stars, xt,
           text_at("100", 246, 1078, 48, DARK, align="right"),
           text_at("50", 237, 1397, 48, DARK, align="right"),
           text_at("0", 222, 1687, 48, DARK, align="right"),
           text_at("(%)", 254, 1141, 47.5, DARK, align="right"),
           text_at("b", 37, 1050, 98, DARK, align="left"),
           text_at("Rate of Stimuli-locked Spikes", 140, 1370, 53.6, DARK, angle=270),
           text_at("HP Input freq. (Hz)", 490, 1775, 54, DARK)]
for s, col, py in zip(LEGEND, LEGEND_COL, [1539, 1581, 1623, 1666]):
    layers.append(text_at(s, 270, py, 45.5, col, align="left"))

# ---------------- panel c
CX, CY, CW, CH = 790, 895, 1002, 892
csx = pos_scale([CX, CX + CW], CX, CX + CW)
csy = pos_scale([CY + CH, CY], CY + CH, CY)
cX = alt.X("x:Q", scale=csx, axis=None)
cY = alt.Y("y:Q", scale=csy, axis=None)
BROWN = "#2a1200"


def c_rect(x1, x2, y1, y2, fill):
    return alt.Chart(pd.DataFrame({"x": [x1], "x2": [x2], "y": [y1], "y2": [y2]})).mark_rect(color=fill).encode(
        x=cX, x2="x2:Q", y=cY, y2="y2:Q")


def vline(x, y1, y2, width, color="#000000", dashed=None):
    kw = dict(color=color, strokeWidth=width)
    if dashed:
        kw["strokeDash"] = dashed
    return alt.Chart(pd.DataFrame({"x": [x], "y": [y1], "y2": [y2]})).mark_rule(**kw).encode(x=cX, y=cY, y2="y2:Q")


def hline(x1, x2, y, width, color):
    return alt.Chart(pd.DataFrame({"x": [x1], "x2": [x2], "y": [y]})).mark_rule(color=color, strokeWidth=width).encode(x=cX, x2="x2:Q", y=cY)


def tri(xc, half, ytop, ytip, color="#000000"):
    df = pd.DataFrame({"x": [xc - half, xc, xc + half], "y": [ytop, ytip, ytop], "y2": [ytop] * 3})
    return alt.Chart(df).mark_area(color=color, opacity=1).encode(x=cX, y=cY, y2="y2:Q")


blue_grad = alt.Gradient(gradient="linear", x1=0, x2=1, y1=0, y2=0, stops=[
    alt.GradientStop(color="#FFFFFF", offset=0), alt.GradientStop(color="#D5E0F0", offset=.08),
    alt.GradientStop(color="#A1BBDF", offset=.26), alt.GradientStop(color="#A1BBDF", offset=1)])
warm_grad = alt.Gradient(gradient="linear", x1=0, x2=0, y1=0, y2=1, stops=[
    alt.GradientStop(color="#FEF8C1", offset=0), alt.GradientStop(color="#F8E4B8", offset=.3),
    alt.GradientStop(color="#F3D3B8", offset=.65), alt.GradientStop(color="#EFBDBB", offset=1)])

boxes = alt.Chart(pd.DataFrame({"x": [907.5] * 3, "x2": [1066.5] * 3, "y": BOX_TOP, "y2": BOX_BOTTOM, "fill": BOX_FILL})).mark_rect(
    cornerRadius=26, stroke="#1a0c00", strokeWidth=3.5).encode(
    x=cX, x2="x2:Q", y=cY, y2="y2:Q", color=alt.Color("fill:N", scale=None))

layers += [c_rect(1073, 1356.4, 993.6, 1733, blue_grad), c_rect(1369.5, 1653.8, 993.6, 1733, warm_grad), boxes,
           vline(986.4, 1123.7, 1257, 3.5, BROWN), tri(986.4, 10, 1254.5, 1290.5, BROWN),
           vline(986.4, 1433.7, 1567, 3.5, BROWN), tri(986.4, 10, 1564, 1600.5, BROWN),
           hline(1114.6, 1303.6, 1056.6, 5.5, BROWN), hline(1411.5, 1601.6, 1056.6, 5.5, BROWN),
           vline(1137, 1159, 1550, 5.5), tri(1135.3, 33, 1547.8, 1580), vline(1135.3, 1580, 1634, 4, "#111111", [13, 7]), tri(1135.3, 33, 1633, 1665),
           vline(1294, 1159, 1369, 5.5), tri(1293.7, 33, 1367, 1399), vline(1294, 1399, 1634, 4, "#111111", [13, 7]), tri(1293.7, 33, 1633, 1665),
           vline(1433, 1159, 1636, 5.5), tri(1432.7, 33, 1633, 1665),
           vline(1591.4, 1159, 1636, 5.5), tri(1591.6, 33, 1633, 1665),
           text_at("c", 803, 1050, 102, DARK, align="left")]
for name, base, size in zip(BOX_NAME, BOX_BASE, [53, 52, 52]):
    layers.append(text_at(name, 985.8, base, size, "#ffffff"))
for s, px, py, size in [("- MCH", 1198, 1044, 49.5), ("+ MCH", 1502, 1044, 49.5), ("low", 1135, 1099.5, 48), ("freq.", 1140.7, 1144.4, 48),
                        ("high", 1286.6, 1099.5, 48), ("freq.", 1286.6, 1144.4, 48), ("low", 1432.5, 1099.5, 48), ("freq.", 1438, 1144.4, 48),
                        ("high", 1584.6, 1099.5, 48), ("freq.", 1583.4, 1144.4, 48), ("low S/N", 1222, 1726, 49), ("high S/N", 1523, 1726, 49)]:
    layers.append(text_at(s, px, py, size, DARK))

chart = alt.layer(*layers).resolve_scale(x="independent", y="independent").properties(
    width=1784, height=1779, padding=0, autosize=alt.AutoSizeParams(type="none")
).configure_view(strokeWidth=0)
chart.save("out.html", embed_options={"renderer": "svg", "actions": False})
